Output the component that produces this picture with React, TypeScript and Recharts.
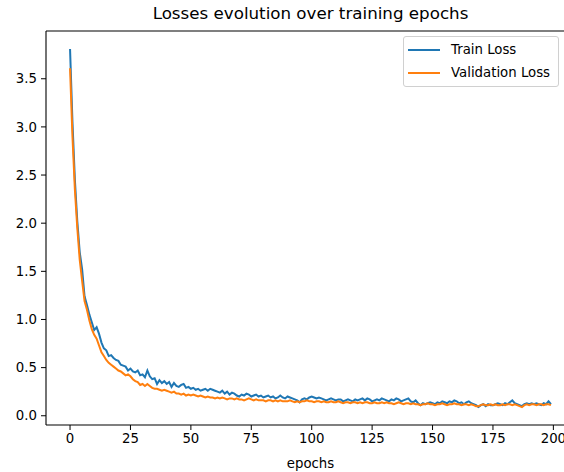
import React from 'react';
import { LineChart, Line, XAxis, YAxis, ReferenceLine } from 'recharts';

// per-epoch losses, epochs 0..199
const trainLoss: number[] = [
  3.81, 3.05, 2.45, 2.02, 1.7, 1.52, 1.24, 1.15, 1.05, 0.97,
  0.89, 0.92, 0.85, 0.76, 0.7, 0.68, 0.62, 0.63, 0.6, 0.58,
  0.57, 0.53, 0.52, 0.51, 0.47, 0.49, 0.46, 0.45, 0.47, 0.42,
  0.43, 0.4, 0.47, 0.41, 0.38, 0.39, 0.33, 0.37, 0.34, 0.36,
  0.33, 0.35, 0.3, 0.34, 0.31, 0.3, 0.32, 0.33, 0.29, 0.3,
  0.28, 0.29, 0.27, 0.28, 0.26, 0.27, 0.28, 0.26, 0.28, 0.27,
  0.26, 0.25, 0.24, 0.26, 0.23, 0.25, 0.22, 0.24, 0.23, 0.21,
  0.2, 0.22, 0.21, 0.23, 0.22, 0.2, 0.21, 0.22, 0.2, 0.21,
  0.19, 0.2, 0.21, 0.19, 0.2, 0.18, 0.19, 0.21, 0.19, 0.18,
  0.2, 0.19, 0.18, 0.17, 0.16, 0.14, 0.17, 0.18, 0.17, 0.19,
  0.2, 0.19, 0.18, 0.19, 0.18, 0.17, 0.16, 0.17, 0.18, 0.17,
  0.16, 0.17, 0.17, 0.15, 0.16, 0.17, 0.16, 0.15, 0.17, 0.16,
  0.17, 0.18, 0.16, 0.18, 0.17, 0.15, 0.16, 0.17, 0.16, 0.18,
  0.17, 0.16, 0.15, 0.17, 0.16, 0.18, 0.17, 0.15, 0.16, 0.17,
  0.18, 0.15, 0.14, 0.16, 0.13, 0.11, 0.13, 0.12, 0.13, 0.14,
  0.13, 0.12, 0.14, 0.13, 0.15, 0.14, 0.13, 0.15, 0.14, 0.16,
  0.15, 0.13, 0.14, 0.12, 0.14, 0.15, 0.13, 0.12, 0.11, 0.09,
  0.11, 0.12, 0.1, 0.12, 0.11, 0.11, 0.12, 0.13, 0.12, 0.11,
  0.13, 0.12, 0.14, 0.16, 0.13, 0.12, 0.11, 0.1, 0.12, 0.13,
  0.12, 0.13, 0.12, 0.13, 0.12, 0.11, 0.13, 0.12, 0.15, 0.12,
];

const validationLoss: number[] = [
  3.61, 2.9, 2.35, 1.95, 1.62, 1.4, 1.19, 1.1, 0.99, 0.9,
  0.84, 0.8, 0.73, 0.66, 0.62, 0.58, 0.55, 0.53, 0.51, 0.49,
  0.47, 0.46, 0.44, 0.42, 0.43, 0.41, 0.38, 0.36, 0.35, 0.32,
  0.33, 0.31, 0.33, 0.31, 0.29, 0.28, 0.28, 0.27, 0.26, 0.27,
  0.26, 0.25, 0.24, 0.25, 0.23, 0.23, 0.22, 0.23, 0.21, 0.22,
  0.21, 0.22, 0.21, 0.2, 0.21, 0.2, 0.19, 0.2, 0.19, 0.19,
  0.18, 0.19, 0.18, 0.19, 0.18, 0.17, 0.18, 0.18, 0.17, 0.18,
  0.17, 0.17, 0.16, 0.17, 0.18, 0.17, 0.16, 0.17, 0.16, 0.16,
  0.16, 0.15, 0.16, 0.16, 0.15, 0.16, 0.15, 0.16, 0.15, 0.15,
  0.15, 0.16, 0.15, 0.14, 0.15, 0.14, 0.15, 0.15, 0.16, 0.15,
  0.15, 0.14, 0.15, 0.15, 0.14, 0.15, 0.14, 0.14, 0.15, 0.14,
  0.14, 0.15, 0.14, 0.13, 0.14, 0.14, 0.13, 0.14, 0.14, 0.13,
  0.14, 0.13, 0.14, 0.14, 0.13, 0.13, 0.14, 0.13, 0.13, 0.14,
  0.13, 0.14, 0.13, 0.13, 0.12, 0.13, 0.14, 0.13, 0.12, 0.13,
  0.13, 0.12, 0.13, 0.12, 0.12, 0.11, 0.12, 0.12, 0.13, 0.12,
  0.12, 0.11, 0.12, 0.12, 0.13, 0.12, 0.11, 0.12, 0.12, 0.13,
  0.12, 0.12, 0.11, 0.12, 0.12, 0.11, 0.12, 0.11, 0.1, 0.1,
  0.11, 0.12, 0.11, 0.11, 0.12, 0.11, 0.12, 0.11, 0.11, 0.12,
  0.11, 0.12, 0.12, 0.11, 0.12, 0.11, 0.1, 0.09, 0.11, 0.12,
  0.11, 0.12, 0.12, 0.11, 0.12, 0.12, 0.11, 0.12, 0.12, 0.11,
];

const xTicks = [0, 25, 50, 75, 100, 125, 150, 175, 200];
const yTicks = [0, 0.5, 1, 1.5, 2, 2.5, 3, 3.5];
const xDomain: [number, number] = [-9.95, 208.95];
const yDomain: [number, number] = [-0.096, 3.996];

const data = trainLoss.map((train, epoch) => ({
  epoch,
  train,
  validation: validationLoss[epoch],
}));

const FONT = '"DejaVu Sans", sans-serif';
const TRAIN_COLOR = '#1f77b4';
const VAL_COLOR = '#ff7f0e';
const tickStyle = { fontSize: 13.3, fill: '#000', fontFamily: FONT };

const legendItems = [
  { name: 'Train Loss', color: TRAIN_COLOR },
  { name: 'Validation Loss', color: VAL_COLOR },
];

function LossLegend() {
  return (
    <div
      style={{
        position: 'absolute',
        left: 403,
        top: 36,
        border: '1px solid #d0d0d0',
        borderRadius: 3,
        background: 'rgba(255,255,255,0.8)',
        padding: '1px 8px 2px 4px',
        fontFamily: FONT,
        fontSize: 13.3,
        color: '#000',
        whiteSpace: 'nowrap',
      }}
    >
      {legendItems.map((it) => (
        <div key={it.name} style={{ display: 'flex', alignItems: 'center', height: 23 }}>
          <span
            style={{
              display: 'inline-block',
              width: 32,
              height: 2,
              background: it.color,
              marginRight: 11,
            }}
          />
          {it.name}
        </div>
      ))}
    </div>
  );
}

export default function App() {
  return (
    <div
      style={{
        position: 'absolute',
        left: 0,
        top: 0,
        width: 564,
        height: 472,
        overflow: 'hidden',
        background: '#fff',
      }}
    >
      <div
        style={{
          position: 'absolute',
          left: 46,
          width: 529,
          top: 3,
          textAlign: 'center',
          fontFamily: FONT,
          fontSize: 16.7,
          color: '#000',
        }}
      >
        Losses evolution over training epochs
      </div>
      <LineChart
        width={620}
        height={472}
        data={data}
        margin={{ top: 31, right: 45, bottom: 0, left: 0 }}
      >
        <XAxis
          type="number"
          dataKey="epoch"
          domain={xDomain}
          ticks={xTicks}
          allowDataOverflow
          height={47}
          tick={tickStyle}
          tickSize={5}
          tickMargin={4}
          tickLine={{ stroke: '#000' }}
          axisLine={{ stroke: '#000', strokeWidth: 1.1 }}
          label={{
            value: 'epochs',
            position: 'insideBottom',
            offset: 4,
            style: { fontSize: 13.3, fill: '#000', fontFamily: FONT },
          }}
        />
        <YAxis
          type="number"
          domain={yDomain}
          ticks={yTicks}
          allowDataOverflow
          width={46}
          tick={tickStyle}
          tickSize={5}
          tickMargin={4}
          tickLine={{ stroke: '#000' }}
          axisLine={{ stroke: '#000', strokeWidth: 1.1 }}
          tickFormatter={(v: number) => v.toFixed(1)}
        />
        {/* top spine */}
        <ReferenceLine y={yDomain[1]} stroke="#000" strokeWidth={1.1} />
        <Line
          type="linear"
          dataKey="train"
          name="Train Loss"
          stroke={TRAIN_COLOR}
          strokeWidth={2}
          dot={false}
          isAnimationActive={false}
        />
        <Line
          type="linear"
          dataKey="validation"
          name="Validation Loss"
          stroke={VAL_COLOR}
          strokeWidth={2}
          dot={false}
          isAnimationActive={false}
        />
      </LineChart>
      <LossLegend />
    </div>
  );
}
